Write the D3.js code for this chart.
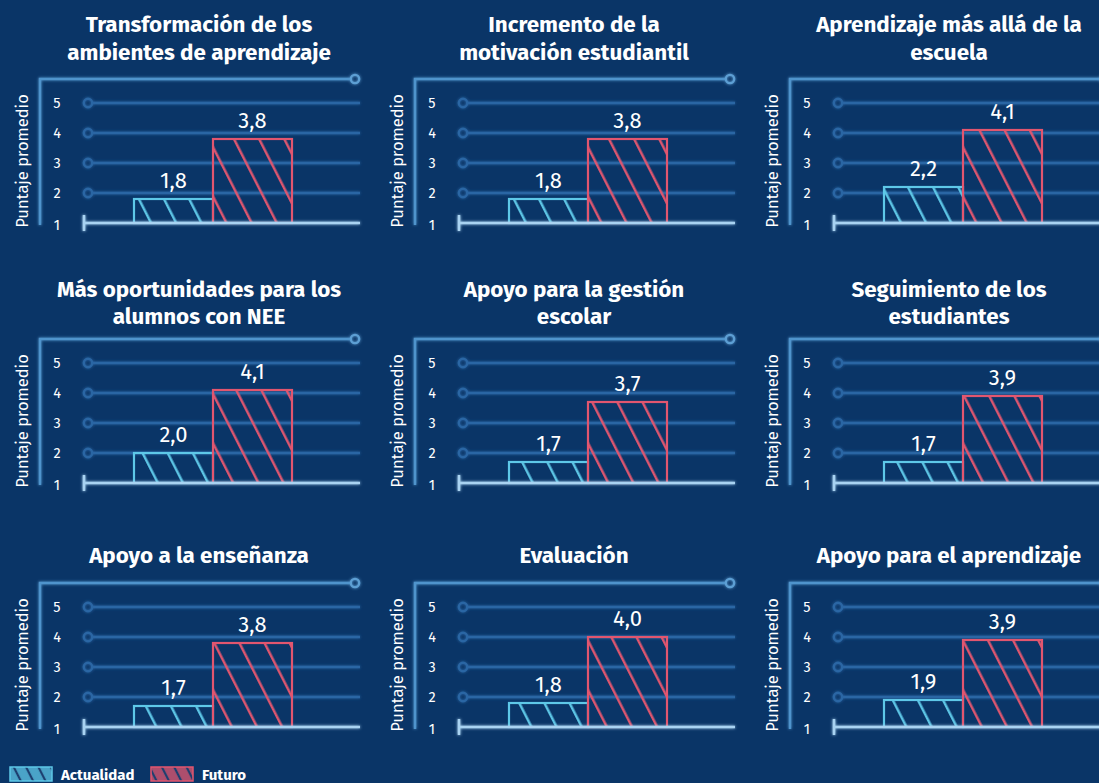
<!DOCTYPE html>
<html>
<head>
<meta charset="utf-8">
<script src="https://cdn.jsdelivr.net/npm/d3@7"></script>
<style>
  html, body { margin: 0; padding: 0; background: #0a3567; }
  svg { display: block; }
</style>
</head>
<body>
<svg id="chart" width="1099" height="783"></svg>
<script>
// Panel titles (one entry per line of each title)
const titles = [
  ["Transformación de los", "ambientes de aprendizaje"],
  ["Incremento de la", "motivación estudiantil"],
  ["Aprendizaje más allá de la", "escuela"],
  ["Más oportunidades para los", "alumnos con NEE"],
  ["Apoyo para la gestión", "escolar"],
  ["Seguimiento de los", "estudiantes"],
  ["Apoyo a la enseñanza"],
  ["Evaluación"],
  ["Apoyo para el aprendizaje"]
];
const series = ["Actualidad", "Futuro"];
const actualidad = [1.8, 1.8, 2.2, 2.0, 1.7, 1.7, 1.7, 1.8, 1.9];
const futuro     = [3.8, 3.8, 4.1, 4.1, 3.7, 3.9, 3.8, 4.0, 3.9];
const yTicks = [1, 2, 3, 4, 5];
const yLabel = "Puntaje promedio";

const colors = { Actualidad: "#5ec8e8", Futuro: "#e2566f" };
const BG = "#0a3567";
const FONT = "'Fira Sans', 'Open Sans', sans-serif";

const svg = d3.select("#chart");
svg.append("rect").attr("width", 1099).attr("height", 783).attr("fill", BG);

const defs = svg.append("defs");
// soft glow for the neon lines
const glow = defs.append("filter").attr("id", "glow")
  .attr("x", "-20%").attr("y", "-200%").attr("width", "140%").attr("height", "500%");
glow.append("feGaussianBlur").attr("stdDeviation", 1.8).attr("result", "b");
const merge = glow.append("feMerge");
merge.append("feMergeNode").attr("in", "b");
merge.append("feMergeNode").attr("in", "SourceGraphic");

// diagonal hatch patterns
series.forEach(s => {
  const p = defs.append("pattern").attr("id", "hatch-" + s)
    .attr("patternUnits", "userSpaceOnUse")
    .attr("width", 22.4).attr("height", 20)
    .attr("patternTransform", "rotate(-27)");
  p.append("line").attr("x1", 11).attr("x2", 11).attr("y1", 0).attr("y2", 20)
    .attr("stroke", colors[s]).attr("stroke-width", 2.4);
  const q = defs.append("pattern").attr("id", "swatch-" + s)
    .attr("patternUnits", "userSpaceOnUse")
    .attr("width", 11).attr("height", 20)
    .attr("patternTransform", "rotate(-27)");
  q.append("rect").attr("width", 11).attr("height", 20).attr("fill", colors[s]).attr("opacity", 0.75);
  q.append("line").attr("x1", 5).attr("x2", 5).attr("y1", 0).attr("y2", 20)
    .attr("stroke", "#1d3f70").attr("stroke-width", 2.2);
});

const fmt = d3.formatLocale({ decimal: ",", thousands: ".", grouping: [3], currency: ["", ""] }).format(".1f");

const colW = 375;
const frameY = [79, 339, 583];
const titleY = [[32, 60], [297, 324], [563]];

const x = d3.scaleBand().domain(series).range([134, 292]).padding(0);

titles.forEach((title, i) => {
  const col = i % 3, row = Math.floor(i / 3);
  const fy = frameY[row];
  const g = svg.append("g").attr("transform", `translate(${col * colW},0)`);
  const y = d3.scaleLinear().domain([1, 5]).range([fy + 144, fy + 24]);
  const vals = { Actualidad: actualidad[i], Futuro: futuro[i] };

  // title
  title.forEach((line, k) => {
    g.append("text")
      .attr("x", 199).attr("y", titleY[row][k])
      .attr("text-anchor", "middle")
      .attr("fill", "#ffffff")
      .attr("font-family", FONT)
      .attr("font-weight", 700).attr("font-size", 22.4)
      .text(line);
  });

  const lines = g.append("g").attr("filter", "url(#glow)");
  // outer frame: vertical rule and top rule ending in a ring
  lines.append("path")
    .attr("d", `M40,${y(1) + 2}V${fy}H351`)
    .attr("fill", "none").attr("stroke", "#4f94cc").attr("stroke-width", 2.5);
  lines.append("circle").attr("cx", 355).attr("cy", fy).attr("r", 4.2)
    .attr("fill", "none").attr("stroke", "#5d9fd4").attr("stroke-width", 2.3);

  // gridlines with ring markers
  const grid = lines.selectAll(".grid").data(yTicks.filter(t => t > 1)).enter().append("g");
  grid.append("line").attr("x1", 93).attr("x2", 360)
    .attr("y1", d => y(d)).attr("y2", d => y(d))
    .attr("stroke", "#2a66a4").attr("stroke-width", 2.6);
  grid.append("circle").attr("cx", 88).attr("cy", d => y(d)).attr("r", 4.2)
    .attr("fill", "none").attr("stroke", "#2a66a4").attr("stroke-width", 2.4);

  // tick labels
  g.selectAll(".tick").data(yTicks).enter().append("text")
    .attr("x", 57).attr("y", d => y(d) + (d === 1 ? 7 : 5))
    .attr("text-anchor", "middle")
    .attr("fill", "#ffffff")
    .attr("font-family", FONT)
    .attr("font-size", 14.5)
    .text(d => d);

  // axis title
  g.append("text")
    .attr("transform", `translate(28,${fy + 82}) rotate(-90)`)
    .attr("text-anchor", "middle")
    .attr("fill", "#ffffff")
    .attr("font-family", FONT)
    .attr("font-size", 16.5)
    .text(yLabel);

  // bars
  series.forEach(s => {
    g.append("rect")
      .attr("x", x(s)).attr("width", x.bandwidth())
      .attr("y", y(vals[s])).attr("height", y(1) - y(vals[s]))
      .attr("fill", `url(#hatch-${s})`)
      .attr("stroke", colors[s]).attr("stroke-width", 2.2);
    g.append("text")
      .attr("x", x(s) + x.bandwidth() / 2)
      .attr("y", y(vals[s]) - 11)
      .attr("text-anchor", "middle")
      .attr("fill", "#ffffff")
      .attr("font-family", FONT)
      .attr("font-size", 22)
      .text(fmt(vals[s]));
  });

  // baseline
  const base = g.append("g").attr("filter", "url(#glow)");
  base.append("line").attr("x1", 84).attr("x2", 360)
    .attr("y1", y(1)).attr("y2", y(1))
    .attr("stroke", "#a9d3f2").attr("stroke-width", 2.6);
  base.append("line").attr("x1", 84).attr("x2", 84)
    .attr("y1", y(1) - 8).attr("y2", y(1) + 8)
    .attr("stroke", "#a9d3f2").attr("stroke-width", 2.6);
});

// legend
const legend = svg.append("g");
const legX = { Actualidad: 10, Futuro: 151 };
series.forEach(s => {
  legend.append("rect")
    .attr("x", legX[s]).attr("y", 767).attr("width", 42).attr("height", 14)
    .attr("fill", `url(#swatch-${s})`)
    .attr("stroke", colors[s]).attr("stroke-width", 1.5);
  legend.append("text")
    .attr("x", legX[s] + 51).attr("y", 780)
    .attr("fill", "#ffffff")
    .attr("font-family", FONT)
    .attr("font-weight", 700).attr("font-size", 15)
    .text(s);
});
</script>
</body>
</html>
